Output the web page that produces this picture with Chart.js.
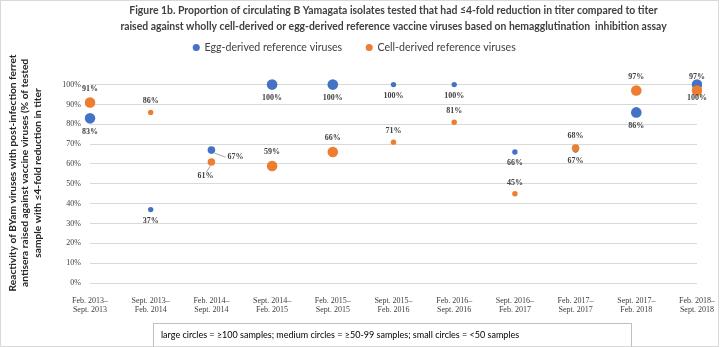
<!DOCTYPE html>
<html>
<head>
<meta charset="utf-8">
<script src="https://cdn.jsdelivr.net/npm/chart.js@4.4.1/dist/chart.umd.min.js"></script>
<style>
  html, body { margin: 0; padding: 0; background: #fff; }
  #wrap { position: relative; width: 720px; height: 347px; overflow: hidden; }
  #frame { position: absolute; left: 0; top: 0; width: 719px; height: 347px; box-sizing: border-box; border: 1px solid #d9d9d9; pointer-events: none; }
  #note {
    position: absolute; left: 153px; top: 323px; width: 479px; height: 30px;
    box-sizing: border-box; border: 1px solid #bfbfbf; padding: 5px 0 0 7px;
    font-family: Lato, sans-serif; font-size: 9px; color: #000;
  }
</style>
</head>
<body>
<div id="wrap">
  <canvas id="chart"></canvas>
  <div id="frame"></div>
  <div id="note">large circles = ≥100 samples; medium circles = ≥50-99 samples; small circles = &lt;50 samples</div>
</div>
<script>
// ---- data ----
const categories = [
    ['Feb. 2013–', 'Sept. 2013'],
    ['Sept. 2013–', 'Feb. 2014'],
    ['Feb. 2014–', 'Sept. 2014'],
    ['Sept. 2014–', 'Feb. 2015'],
    ['Feb. 2015–', 'Sept. 2015'],
    ['Sept. 2015–', 'Feb. 2016'],
    ['Feb. 2016–', 'Sept. 2016'],
    ['Sept. 2016–', 'Feb. 2017'],
    ['Feb. 2017–', 'Sept. 2017'],
    ['Sept. 2017–', 'Feb. 2018'],
    ['Feb. 2018–', 'Sept. 2018']
];
const eggValues  = [83, 37, 67, 100, 100, 100, 100, 66, 67, 86, 100];
const cellValues = [91, 86, 61, 59, 66, 71, 81, 45, 68, 97, 97];
// sample size class of each point (large >=100, medium 50-99, small <50)
const eggSamples  = ['large', 'small', 'medium', 'large', 'large', 'small', 'small', 'small', 'small', 'large', 'large'];
const cellSamples = ['large', 'small', 'medium', 'large', 'large', 'small', 'small', 'small', 'medium', 'large', 'large'];
const yTicks = [0, 10, 20, 30, 40, 50, 60, 70, 80, 90, 100];

const seriesNames = ['Egg-derived reference viruses', 'Cell-derived reference viruses'];
const titleLines = [
    'Figure 1b. Proportion of circulating B Yamagata isolates tested that had ≤4-fold reduction in titer compared to titer',
    'raised against wholly cell-derived or egg-derived reference vaccine viruses based on hemagglutination  inhibition assay'
];
const yTitleLines = [
    'Reactivity of BYam viruses with post-infection ferret',
    'antisera raised against vaccine viruses (% of tested',
    'sample with ≤4-fold reduction in titer'
];

// ---- look ----
const BLUE = '#4472C4';
const ORANGE = '#ED7D31';
const radius = { large: 5.3, medium: 3.8, small: 2.7 };
const sans = 'Lato, "Liberation Sans", sans-serif';
const serif = '"Liberation Serif", "DejaVu Serif", serif';

// label placement: egg below, cell above; Feb 2014 uses leader lines
const labelPlugin = {
    id: 'pointLabels',
    afterDatasetsDraw(chart) {
        const ctx = chart.ctx;
        ctx.save();
        ctx.font = 'bold 8px ' + serif;
        ctx.fillStyle = '#404040';
        ctx.textAlign = 'center';
        ctx.textBaseline = 'middle';
        chart.data.datasets.forEach((ds, di) => {
            const meta = chart.getDatasetMeta(di);
            const isEgg = di === 0;
            meta.data.forEach((pt, i) => {
                const r = radius[ds.samples[i]];
                const txt = ds.data[i] + '%';
                if (i === 2) {
                    ctx.strokeStyle = '#a6a6a6';
                    ctx.lineWidth = 1;
                    ctx.beginPath();
                    if (isEgg) {
                        ctx.moveTo(pt.x + 3, pt.y + 3);
                        ctx.lineTo(pt.x + 14, pt.y + 7);
                        ctx.stroke();
                        ctx.textAlign = 'left';
                        ctx.fillText(txt, pt.x + 16, pt.y + 7);
                        ctx.textAlign = 'center';
                    } else {
                        ctx.moveTo(pt.x - 1, pt.y + 4);
                        ctx.lineTo(pt.x - 5, pt.y + 10);
                        ctx.stroke();
                        ctx.fillText(txt, pt.x - 6, pt.y + 14);
                    }
                    return;
                }
                const dy = r + 8.5;
                ctx.fillText(txt, pt.x, isEgg ? pt.y + dy : pt.y - dy);
            });
        });
        ctx.restore();
    }
};

new Chart(document.getElementById('chart'), {
    type: 'line',
    data: {
        labels: categories,
        datasets: [
            {
                label: seriesNames[0],
                data: eggValues,
                samples: eggSamples,
                showLine: false,
                backgroundColor: BLUE,
                borderColor: BLUE,
                pointBorderWidth: 0,
                pointRadius: eggSamples.map(s => radius[s]),
                order: 1
            },
            {
                label: seriesNames[1],
                data: cellValues,
                samples: cellSamples,
                showLine: false,
                backgroundColor: ORANGE,
                borderColor: ORANGE,
                pointBorderWidth: 0,
                pointRadius: cellSamples.map(s => radius[s]),
                order: 0
            }
        ]
    },
    options: {
        responsive: true,
        maintainAspectRatio: false,
        animation: false,
        layout: { padding: { left: 0, right: 11, top: 0, bottom: 0 } },
        plugins: {
            tooltip: { enabled: false },
            title: {
                display: true,
                fullSize: false,
                text: titleLines,
                color: '#404040',
                font: { family: sans, size: 10.4, weight: 'bold', lineHeight: 1.5 },
                padding: { top: 3, bottom: -16 }
            },
            legend: {
                display: true,
                reverse: true,
                labels: {
                    usePointStyle: true,
                    pointStyle: 'circle',
                    boxWidth: 6,
                    boxHeight: 5,
                    padding: 24,
                    color: '#404040',
                    font: { family: sans, size: 10.6 }
                }
            }
        },
        scales: {
            x: {
                grid: { display: false },
                border: { display: false },
                ticks: {
                    color: '#404040',
                    font: { family: serif, size: 8 },
                    maxRotation: 0,
                    autoSkip: false,
                    padding: 5
                },
                afterFit(scale) { scale.height = 64; }
            },
            y: {
                min: 0,
                max: 111,
                afterBuildTicks(scale) { scale.ticks = yTicks.map(v => ({ value: v })); },
                grid: { color: '#d9d9d9', lineWidth: 1, drawTicks: false },
                border: { display: false },
                ticks: {
                    color: '#404040',
                    font: { family: serif, size: 8 },
                    padding: 9,
                    callback: v => v + '%'
                },
                title: {
                    display: true,
                    text: yTitleLines,
                    color: '#262626',
                    font: { family: sans, size: 10.2, weight: 'bold', lineHeight: 1.25 },
                    padding: { top: 6, bottom: 0 }
                },
                afterFit(scale) { scale.width = 90; }
            }
        }
    },
    plugins: [labelPlugin]
});
</script>
</body>
</html>
